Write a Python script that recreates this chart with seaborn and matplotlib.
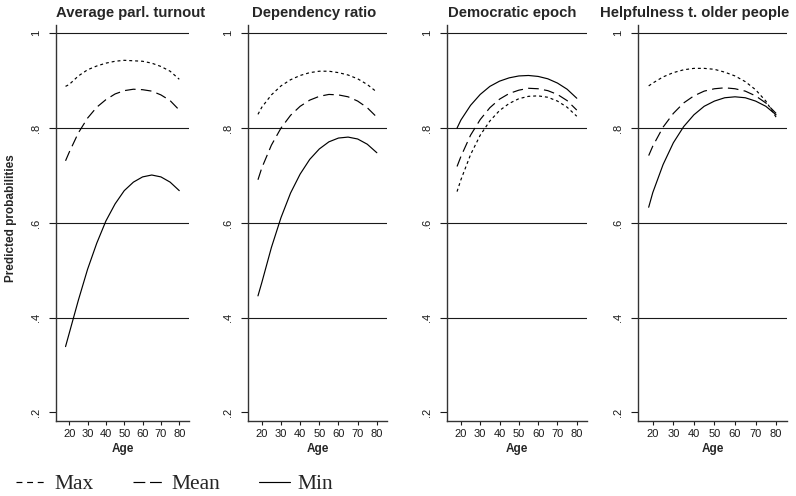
import matplotlib
matplotlib.use("Agg")
import matplotlib.pyplot as plt
from matplotlib.lines import Line2D
import pandas as pd
import seaborn as sns

# Predicted probabilities by age, for three levels (max / mean / min) of each covariate
ages = [18, 20, 25, 30, 35, 40, 45, 50, 55, 60, 65, 70, 75, 80]

turnout_max = [0.888, 0.892, 0.910, 0.923, 0.931, 0.937, 0.941, 0.943, 0.942, 0.941, 0.937, 0.930, 0.920, 0.903]
turnout_mean = [0.731, 0.749, 0.790, 0.821, 0.844, 0.860, 0.872, 0.879, 0.882, 0.881, 0.878, 0.870, 0.858, 0.838]
turnout_min = [0.339, 0.367, 0.437, 0.502, 0.557, 0.604, 0.640, 0.668, 0.686, 0.697, 0.701, 0.697, 0.686, 0.668]

dependency_max = [0.829, 0.844, 0.870, 0.889, 0.902, 0.911, 0.917, 0.920, 0.920, 0.917, 0.912, 0.904, 0.892, 0.876]
dependency_mean = [0.691, 0.716, 0.764, 0.800, 0.827, 0.846, 0.859, 0.867, 0.871, 0.870, 0.866, 0.857, 0.843, 0.823]
dependency_min = [0.446, 0.474, 0.548, 0.611, 0.663, 0.703, 0.734, 0.756, 0.771, 0.779, 0.781, 0.777, 0.766, 0.748]

epoch_max = [0.666, 0.691, 0.744, 0.785, 0.815, 0.837, 0.852, 0.862, 0.867, 0.868, 0.865, 0.857, 0.844, 0.825]
epoch_mean = [0.719, 0.740, 0.785, 0.818, 0.843, 0.861, 0.873, 0.880, 0.884, 0.883, 0.879, 0.871, 0.858, 0.838]
epoch_min = [0.800, 0.817, 0.848, 0.871, 0.888, 0.899, 0.906, 0.910, 0.911, 0.909, 0.904, 0.895, 0.882, 0.863]

helpful_max = [0.889, 0.895, 0.908, 0.917, 0.923, 0.926, 0.926, 0.924, 0.918, 0.910, 0.898, 0.881, 0.857, 0.823]
helpful_mean = [0.742, 0.762, 0.802, 0.831, 0.853, 0.868, 0.878, 0.883, 0.885, 0.883, 0.878, 0.868, 0.853, 0.831]
helpful_min = [0.633, 0.664, 0.723, 0.769, 0.803, 0.828, 0.846, 0.857, 0.864, 0.866, 0.864, 0.857, 0.846, 0.828]

panel_titles = ["Average parl. turnout", "Dependency ratio",
                "Democratic epoch", "Helpfulness t. older people"]
series_names = ["Max", "Mean", "Min"]
y_ticks = [0.2, 0.4, 0.6, 0.8, 1.0]
y_tick_labels = [".2", ".4", ".6", ".8", "1"]
grid_levels = [0.4, 0.6, 0.8, 1.0]
x_ticks = [20, 30, 40, 50, 60, 70, 80]

panels = [
    (turnout_max, turnout_mean, turnout_min),
    (dependency_max, dependency_mean, dependency_min),
    (epoch_max, epoch_mean, epoch_min),
    (helpful_max, helpful_mean, helpful_min),
]

frames = []
for title, curves in zip(panel_titles, panels):
    for name, vals in zip(series_names, curves):
        frames.append(pd.DataFrame({"Panel": title, "Series": name,
                                    "Age": ages, "Probability": vals}))
df = pd.concat(frames, ignore_index=True)

sns.set_style("ticks")
plt.rcParams["font.family"] = ["Liberation Sans", "DejaVu Sans"]

W, H = 796, 496
fig = plt.figure(figsize=(W / 100, H / 100), dpi=100)

# panel extents in pixels (left, right); common top / bottom
extents = [(56, 189), (248, 387), (447, 587), (638, 787)]
title_centers = [131, 314, 512, 695]
top_px, bottom_px = 25, 421

line_dashes = {"Max": (2.5, 2.5), "Mean": (9, 4.5), "Min": ""}
ink = "#1a1a1a"

for (l, r), title, tc in zip(extents, panel_titles, title_centers):
    ax = fig.add_axes([l / W, 1 - bottom_px / H, (r - l) / W, (bottom_px - top_px) / H])
    for g in grid_levels:
        ax.axhline(g, color=ink, lw=0.8, zorder=1)
    sub = df[df["Panel"] == title]
    sns.lineplot(data=sub, x="Age", y="Probability", style="Series",
                 style_order=series_names, dashes=line_dashes, color="black",
                 linewidth=0.85, estimator=None, sort=False, legend=False, ax=ax)
    ax.set_xlim(12.8, 85.3)
    ax.set_ylim(0.182, 1.0175)
    ax.set_xticks(x_ticks)
    ax.set_yticks(y_ticks)
    ax.set_yticklabels(y_tick_labels, rotation=90, va="center")
    ax.tick_params(axis="y", length=5, width=0.8, pad=6, labelsize=8, colors=ink)
    ax.tick_params(axis="x", length=3, width=0.8, pad=2.5, labelsize=8, colors=ink)
    for s in ("top", "right"):
        ax.spines[s].set_visible(False)
    for s in ("left", "bottom"):
        ax.spines[s].set_color("#333333")
        ax.spines[s].set_linewidth(1.0)
    ax.set_xlabel("Age", fontsize=8.5, fontweight="bold", labelpad=3)
    ax.set_ylabel("")
    fig.text(tc / W, 1 - 12.5 / H, title, ha="center", va="center",
             fontsize=10.7, fontweight="bold")

fig.text(11 / W, 1 - 218 / H, "Predicted probabilities", rotation=90,
         ha="center", va="center", fontsize=8.5, fontweight="bold")

handles = [
    Line2D([], [], color="black", lw=0.85, dashes=(5, 4)),
    Line2D([], [], color="black", lw=0.85, dashes=(10, 4)),
    Line2D([], [], color="black", lw=0.85),
]
fig.legend(handles, series_names, loc="center left",
           bbox_to_anchor=(16 / W, 1 - 484 / H), ncol=3, frameon=False,
           prop={"family": "Liberation Serif", "size": 15.5},
           handlelength=1.45, handletextpad=0.35, columnspacing=1.8,
           borderpad=0, borderaxespad=0)

fig.savefig("out.png", dpi=100, facecolor="white")
